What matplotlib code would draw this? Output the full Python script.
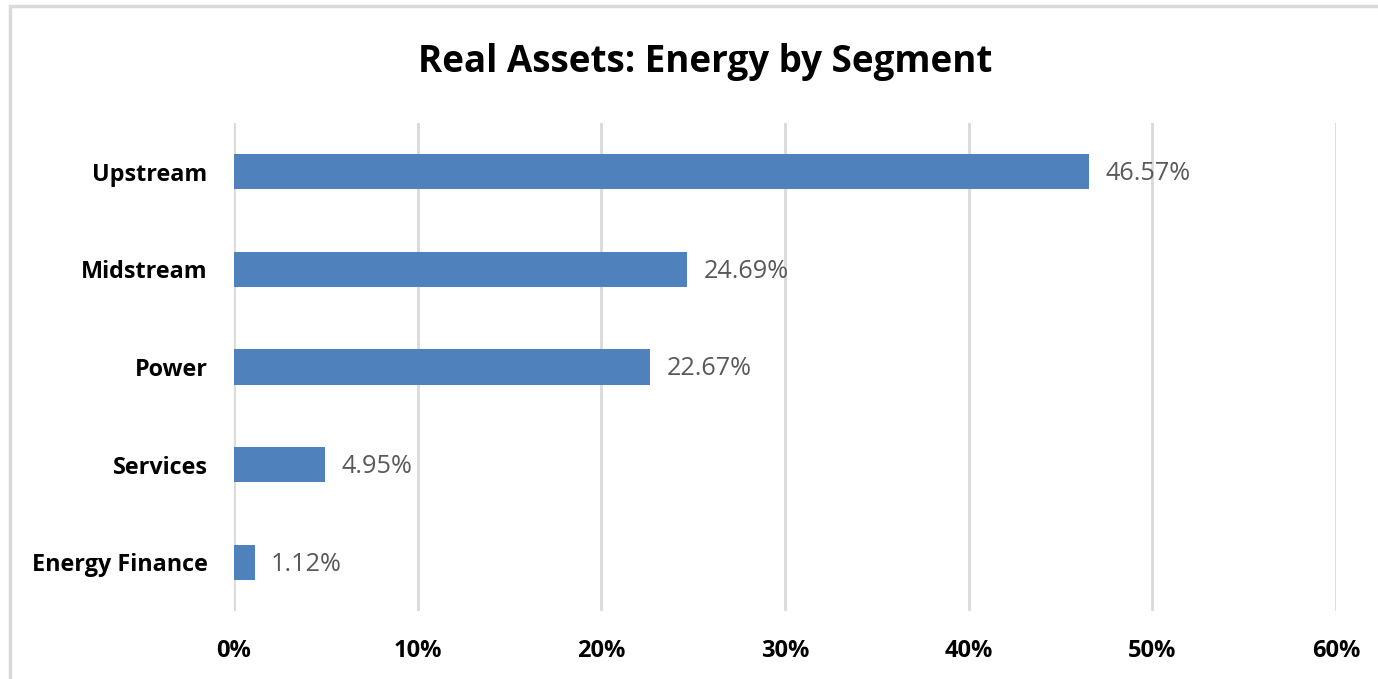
import matplotlib
matplotlib.use("Agg")
import matplotlib.pyplot as plt
from matplotlib.patches import Rectangle

categories = ["Upstream", "Midstream", "Power", "Services", "Energy Finance"]
values = [46.57, 24.69, 22.67, 4.95, 1.12]
xticks = [0, 10, 20, 30, 40, 50, 60]
xtick_labels = ["0%", "10%", "20%", "30%", "40%", "50%", "60%"]

plt.rcParams['font.family'] = ['Open Sans', 'DejaVu Sans']

fig = plt.figure(figsize=(13.78, 6.79), dpi=100)
fig.patches.append(Rectangle((10/1378, -0.01), 1.02, 1 - 6/679 + 0.01,
                             transform=fig.transFigure, fill=False,
                             edgecolor="#d9d9d9", linewidth=2.5))
ax = fig.add_axes([234/1378, 1 - 611/679, (1336 - 234)/1378, (611 - 123)/679])

y = list(range(len(categories)))
ax.barh(y, values, height=0.36, color="#4f81bd", zorder=2)
for yi, v in zip(y, values):
    ax.text(v + 0.9, yi + 0.02, f"{v:.2f}%", va="center", ha="left",
            fontsize=18.2, color="#595959", zorder=3)

ax.set_xlim(0, 60)
ax.set_ylim(len(categories) - 0.5, -0.5)
ax.set_xticks(xticks)
ax.set_xticklabels(xtick_labels, fontsize=17, fontweight="bold")
ax.set_yticks(y)
ax.set_yticklabels(categories, fontsize=16.8, fontweight="bold")
ax.tick_params(axis="both", length=0)
ax.tick_params(axis="x", pad=20)
ax.tick_params(axis="y", pad=19)
ax.grid(axis="x", color="#d9d9d9", linewidth=2, zorder=0)
ax.set_axisbelow(True)
for s in ax.spines.values():
    s.set_visible(False)

fig.text(705/1378, 1 - 62/679, "Real Assets: Energy by Segment", ha="center",
         va="center", fontsize=26.5, fontweight="bold")

fig.savefig("out.png", dpi=100)
